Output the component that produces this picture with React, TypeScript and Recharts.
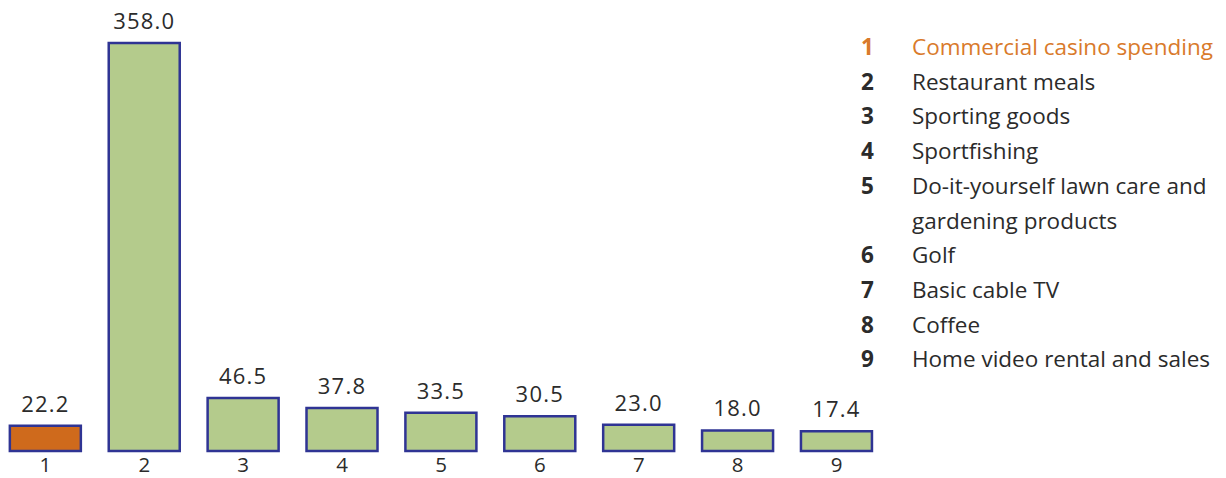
import { BarChart, Bar, XAxis, YAxis, Cell, LabelList } from "recharts";

const categories = ["1", "2", "3", "4", "5", "6", "7", "8", "9"];
const spending = [22.2, 358.0, 46.5, 37.8, 33.5, 30.5, 23.0, 18.0, 17.4];
const legendItems = [
  "Commercial casino spending",
  "Restaurant meals",
  "Sporting goods",
  "Sportfishing",
  "Do-it-yourself lawn care and gardening products",
  "Golf",
  "Basic cable TV",
  "Coffee",
  "Home video rental and sales",
];

const data = categories.map((c, i) => ({ name: c, value: spending[i] }));

const FONT = "'Open Sans', sans-serif";
const ORANGE = "#cf6a1c";
const GREEN = "#b4cb8c";
const TEXT = "#2b2b2b";

const App = () => {
  return (
    <div style={{ position: "absolute", left: 0, top: 0, width: 1226, height: 478, background: "#fff", fontFamily: FONT }}>
      <div style={{ position: "absolute", left: -4, top: 0 }}>
        <BarChart
          width={890}
          height={478}
          data={data}
          margin={{ top: 43, right: 0, left: 0, bottom: 0 }}
          barCategoryGap="14%"
        >
          <XAxis
            dataKey="name"
            height={27}
            axisLine={false}
            tickLine={false}
            tickSize={0}
            tickMargin={6}
            interval={0}
            tick={{ fontSize: 20.5, fill: TEXT, fontFamily: FONT }}
          />
          <YAxis hide domain={[0, 358]} />
          <Bar dataKey="value" stroke="#2f3494" strokeWidth={2.5} isAnimationActive={false}>
            {data.map((d, i) => (
              <Cell key={d.name} fill={i === 0 ? ORANGE : GREEN} />
            ))}
            <LabelList
              dataKey="value"
              position="top"
              offset={14}
              formatter={(v: any) => Number(v).toFixed(1)}
              style={{ fontSize: 22, fill: TEXT, fontFamily: FONT, letterSpacing: 1.2 }}
            />
          </Bar>
        </BarChart>
      </div>
      {/* legend */}
      <div style={{ position: "absolute", left: 858, top: 30, width: 370, fontSize: 22.5, lineHeight: "34.7px", color: TEXT }}>
        {legendItems.map((t, i) => (
          <div key={t} style={{ display: "flex", color: i === 0 ? "#d97a2b" : TEXT }}>
            <span style={{ width: 51, fontWeight: 700, paddingLeft: 3 }}>{i + 1}</span>
            <span style={{ flex: 1, whiteSpace: i === 4 ? "normal" : "nowrap" }}>{t}</span>
          </div>
        ))}
      </div>
    </div>
  );
};

export default App;
